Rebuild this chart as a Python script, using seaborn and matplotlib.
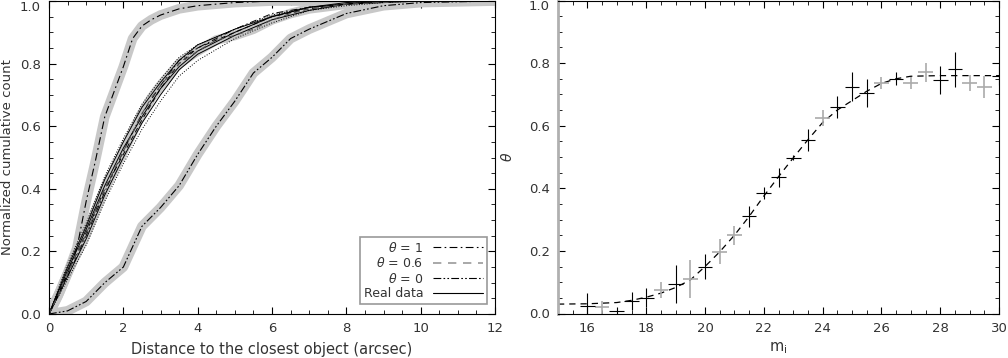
import matplotlib
matplotlib.use("Agg")
import matplotlib.pyplot as plt
from matplotlib.ticker import MultipleLocator
import numpy as np
import pandas as pd
import seaborn as sns

# ---- left panel: cumulative distributions ----
theta1_x = [0, 0.25, 0.5, 0.75, 1.0, 1.25, 1.5, 1.75, 2.0, 2.25, 2.5, 2.75, 3.0, 3.5, 4.0, 4.5, 5, 6, 8, 12]
theta1_y = [0, 0.06, 0.13, 0.21, 0.36, 0.49, 0.63, 0.71, 0.79, 0.88, 0.92, 0.94, 0.955, 0.975, 0.985, 0.99, 0.995, 1.0, 1.0, 1.0]

theta06_x = [0, 0.25, 0.5, 0.75, 1.0, 1.25, 1.5, 1.75, 2.0, 2.25, 2.5, 2.75, 3.0, 3.5, 4.0, 4.5, 5.0, 5.5, 6.0, 6.5, 7.0, 8.0, 9.0, 10, 12]
theta06_y = [0, 0.06, 0.13, 0.195, 0.255, 0.33, 0.40, 0.46, 0.52, 0.58, 0.64, 0.69, 0.73, 0.80, 0.84, 0.875, 0.89, 0.91, 0.94, 0.96, 0.975, 0.99, 0.995, 1.0, 1.0]

theta0_x = [0, 0.5, 1.0, 1.5, 2.0, 2.5, 3.0, 3.5, 4.0, 4.5, 5.0, 5.5, 6.0, 6.5, 7.0, 7.5, 8.0, 9.0, 10, 12]
theta0_y = [0, 0.01, 0.04, 0.10, 0.15, 0.28, 0.34, 0.41, 0.51, 0.60, 0.68, 0.77, 0.82, 0.88, 0.91, 0.935, 0.96, 0.985, 0.995, 1.0]

# bundle of curves around the middle distribution
bundle_x = [0, 0.5, 1.0, 1.5, 2.0, 2.5, 3.0, 3.5, 4.0, 5.0, 6.0, 7.0, 8.0, 9.0, 10, 12]
real_a = [0, 0.14, 0.27, 0.41, 0.53, 0.63, 0.72, 0.79, 0.84, 0.90, 0.95, 0.98, 0.99, 1.0, 1.0, 1.0]
real_b = [0, 0.12, 0.24, 0.38, 0.50, 0.61, 0.70, 0.78, 0.83, 0.89, 0.94, 0.97, 0.99, 0.995, 1.0, 1.0]
real_c = [0, 0.15, 0.28, 0.43, 0.55, 0.66, 0.74, 0.81, 0.86, 0.91, 0.95, 0.98, 0.995, 1.0, 1.0, 1.0]
dot_a = [0, 0.11, 0.22, 0.36, 0.48, 0.59, 0.68, 0.76, 0.81, 0.88, 0.93, 0.97, 0.985, 0.995, 1.0, 1.0]
dot_b = [0, 0.16, 0.29, 0.44, 0.56, 0.67, 0.75, 0.82, 0.86, 0.91, 0.955, 0.98, 0.99, 1.0, 1.0, 1.0]
dash_a = [0, 0.13, 0.26, 0.40, 0.51, 0.62, 0.72, 0.80, 0.85, 0.90, 0.95, 0.975, 0.99, 1.0, 1.0, 1.0]
dashdot_a = [0, 0.12, 0.25, 0.39, 0.52, 0.64, 0.73, 0.81, 0.85, 0.91, 0.96, 0.98, 0.99, 1.0, 1.0, 1.0]

# ---- right panel: theta vs magnitude ----
fit_m = [15, 16, 17, 17.5, 18, 18.5, 19, 19.5, 20, 20.5, 21, 21.5, 22, 22.5, 23, 23.5, 24, 24.5, 25, 25.5, 26, 26.5, 27, 28, 29, 30]
fit_theta = [0.03, 0.031, 0.035, 0.042, 0.052, 0.065, 0.083, 0.107, 0.15, 0.197, 0.25, 0.31, 0.375, 0.437, 0.497, 0.555, 0.61, 0.65, 0.68, 0.71, 0.735, 0.75, 0.758, 0.76, 0.76, 0.76]

black_m = [16, 17, 17.5, 18, 19, 20, 21.5, 22, 22.5, 23, 23.5, 24.5, 25, 25.5, 26.5, 28, 28.5, 30]
black_theta = [0.025, 0.008, 0.04, 0.05, 0.095, 0.15, 0.31, 0.385, 0.435, 0.497, 0.555, 0.66, 0.725, 0.705, 0.75, 0.745, 0.78, 0.76]
black_err = [0.04, 0.012, 0.03, 0.03, 0.06, 0.04, 0.035, 0.02, 0.03, 0.008, 0.035, 0.035, 0.045, 0.045, 0.02, 0.045, 0.055, 0.03]

gray_m = [16.5, 18.5, 19.5, 20.5, 21, 24, 26, 27, 27.5, 29, 29.5]
gray_theta = [0.02, 0.075, 0.11, 0.197, 0.25, 0.625, 0.737, 0.737, 0.77, 0.737, 0.724]
gray_err = [0.02, 0.025, 0.06, 0.04, 0.03, 0.025, 0.02, 0.02, 0.03, 0.025, 0.035]

y_ticks = [0.0, 0.2, 0.4, 0.6, 0.8, 1.0]

sns.set_theme(style="ticks")
plt.rcParams['font.family'] = ['DejaVu Sans']
plt.rcParams['mathtext.fontset'] = 'dejavusans'
txt = '#333333'

fig = plt.figure(figsize=(10.08, 3.58), dpi=100)
ax1 = fig.add_axes([49/1008, 1-314/358, 446/1008, 313/358])
ax2 = fig.add_axes([558/1008, 1-313.5/358, 441/1008, 313/358])

band = '#c8c8c8'
d1 = (0, (7, 3, 1.5, 3))
d06 = (0, (5, 4))
d0 = (0, (7, 2, 1.5, 2, 1.5, 2))

# gray bands
for xs, ys in [(theta1_x, theta1_y), (theta06_x, theta06_y), (theta0_x, theta0_y)]:
    sns.lineplot(x=xs, y=ys, ax=ax1, color=band, lw=7, estimator=None, sort=False,
                 solid_capstyle='round')

# bundle
for ys, ls in [(dot_a, ':'), (dot_b, ':'), (dash_a, d06), (dashdot_a, d1),
               (real_a, '-'), (real_b, '-'), (real_c, '-')]:
    ax1.plot(bundle_x, ys, color='black', lw=0.7, ls=ls)

ax1.plot(theta1_x, theta1_y, color='black', lw=0.8, ls=d1)
ax1.plot(theta06_x, theta06_y, color='#555555', lw=0.8, ls=d06)
ax1.plot(theta0_x, theta0_y, color='black', lw=0.8, ls=d0)

h1 = plt.Line2D([], [], color='black', lw=0.8, ls=d1)
h06 = plt.Line2D([], [], color='#999999', lw=1.2, ls=d06)
h0 = plt.Line2D([], [], color='black', lw=0.8, ls=d0)
hr = plt.Line2D([], [], color='black', lw=0.8, ls='-')
leg = ax1.legend([h1, h06, h0, hr], [r'$\theta$ = 1', r'$\theta$ = 0.6', r'$\theta$ = 0', 'Real data'],
                 loc='lower right', bbox_to_anchor=(0.982, 0.032), borderaxespad=0,
                 markerfirst=False, fancybox=False, framealpha=1, edgecolor='#999999',
                 fontsize=9, handlelength=4.0, labelspacing=0.12, borderpad=0.3,
                 handletextpad=0.8)
leg.get_frame().set_linewidth(1.2)
for t in leg.get_texts():
    t.set_color(txt)

ax1.set_xlim(0, 12)
ax1.set_ylim(0, 1)
ax1.set_xlabel('Distance to the closest object (arcsec)', color=txt, fontsize=10.5, labelpad=5)
ax1.set_ylabel('Normalized cumulative count', color=txt, fontsize=9.5, labelpad=4)
ax1.xaxis.set_major_locator(MultipleLocator(2))
ax1.xaxis.set_minor_locator(MultipleLocator(0.5))

# right panel
sns.lineplot(x=fit_m, y=fit_theta, ax=ax2, color='black', lw=0.9, estimator=None)
ax2.lines[-1].set_dashes((5, 4))
ax2.errorbar(gray_m, gray_theta, yerr=gray_err, xerr=0.25, fmt='none', ecolor='#aaaaaa',
             elinewidth=1.2, capsize=0)
ax2.errorbar(black_m, black_theta, yerr=black_err, xerr=0.25, fmt='none', ecolor='black',
             elinewidth=0.8, capsize=0)
ax2.set_xlim(15, 30)
ax2.set_ylim(0, 1)
ax2.set_xlabel(r'm$_\mathrm{i}$', color=txt, fontsize=10.5, labelpad=4)
ax2.set_ylabel(r'$\theta$', color=txt, fontsize=10, labelpad=10)
ax2.xaxis.set_major_locator(MultipleLocator(2))
ax2.xaxis.set_minor_locator(MultipleLocator(0.5))
ax2.spines['left'].set_color('#b0b0b0')
ax2.spines['left'].set_linewidth(2)

for ax in (ax1, ax2):
    ax.set_yticks(y_ticks, [f'{v:.1f}' for v in y_ticks])
    ax.yaxis.set_minor_locator(MultipleLocator(0.05))
    ax.tick_params(which='both', direction='in', top=True, right=True, colors='black',
                   labelcolor=txt, labelsize=9.5)
    ax.tick_params(which='major', length=5, width=0.8, pad=6)
    ax.tick_params(which='minor', length=3, width=0.6)
    # keep the top label inside the figure
    ax.yaxis.get_major_ticks()[-1].label1.set_verticalalignment('top')
    for s in ('top', 'right', 'bottom'):
        ax.spines[s].set_linewidth(0.8)
        ax.spines[s].set_color('black')
ax1.spines['left'].set_linewidth(0.8)
ax1.spines['left'].set_color('black')

fig.savefig('out.png', dpi=100)
